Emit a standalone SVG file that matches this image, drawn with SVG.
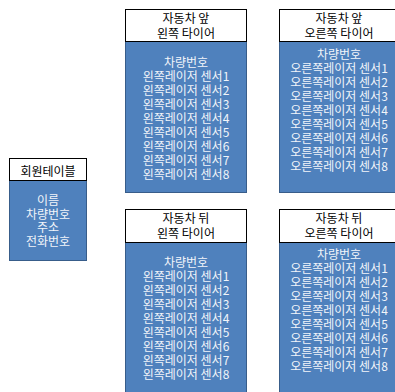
<svg xmlns="http://www.w3.org/2000/svg" width="395" height="392" viewBox="0 0 395 392">
<style>
.hd{fill:#ffffff;stroke:#000000;stroke-width:1}
.bd{fill:#4F81BD;stroke:#385D8A;stroke-width:1}
text{font-family:"Noto Sans CJK KR","Noto Sans",sans-serif;font-size:12px;text-anchor:middle;dominant-baseline:central}
.ht{fill:#000000}
.bt{fill:#F2F5FA}
</style>
<rect width="395" height="392" fill="#ffffff"/>
<g id="connectors"></g>
<g id="member">
<rect class="bd" x="9.5" y="180.5" width="77" height="80"/>
<rect class="hd" x="9.5" y="158.5" width="77" height="22"/>
<text class="ht" x="48" y="170">회원테이블</text>
<text class="bt" x="48" y="199">이름</text>
<text class="bt" x="48" y="213">차량번호</text>
<text class="bt" x="48" y="226">주소</text>
<text class="bt" x="48" y="240">전화번호</text>
</g>
<g id="front-left">
<rect class="bd" x="125.5" y="41.5" width="121" height="151"/>
<rect class="hd" x="125.5" y="9.5" width="121" height="32"/>
<text class="ht" x="186" y="17">자동차 앞</text>
<text class="ht" x="186" y="32">왼쪽 타이어</text>
<text class="bt" x="186" y="61">차량번호</text>
<text class="bt" x="186" y="75">왼쪽레이저 센서1</text>
<text class="bt" x="186" y="89">왼쪽레이저 센서2</text>
<text class="bt" x="186" y="103">왼쪽레이저 센서3</text>
<text class="bt" x="186" y="117">왼쪽레이저 센서4</text>
<text class="bt" x="186" y="131">왼쪽레이저 센서5</text>
<text class="bt" x="186" y="145">왼쪽레이저 센서6</text>
<text class="bt" x="186" y="159">왼쪽레이저 센서7</text>
<text class="bt" x="186" y="173">왼쪽레이저 센서8</text>
</g>
<g id="front-right">
<rect class="bd" x="279.5" y="41.5" width="120" height="151"/>
<rect class="hd" x="279.5" y="9.5" width="120" height="32"/>
<text class="ht" x="339" y="17">자동차 앞</text>
<text class="ht" x="339" y="32">오른쪽 타이어</text>
<text class="bt" x="339" y="53">차량번호</text>
<text class="bt" x="339" y="67">오른쪽레이저 센서1</text>
<text class="bt" x="339" y="81">오른쪽레이저 센서2</text>
<text class="bt" x="339" y="95">오른쪽레이저 센서3</text>
<text class="bt" x="339" y="109">오른쪽레이저 센서4</text>
<text class="bt" x="339" y="123">오른쪽레이저 센서5</text>
<text class="bt" x="339" y="137">오른쪽레이저 센서6</text>
<text class="bt" x="339" y="151">오른쪽레이저 센서7</text>
<text class="bt" x="339" y="165">오른쪽레이저 센서8</text>
</g>
<g id="rear-left">
<rect class="bd" x="125.5" y="242.5" width="121" height="160"/>
<rect class="hd" x="125.5" y="209.5" width="121" height="33"/>
<text class="ht" x="186" y="217">자동차 뒤</text>
<text class="ht" x="186" y="232">왼쪽 타이어</text>
<text class="bt" x="186" y="261">차량번호</text>
<text class="bt" x="186" y="275">왼쪽레이저 센서1</text>
<text class="bt" x="186" y="289">왼쪽레이저 센서2</text>
<text class="bt" x="186" y="303">왼쪽레이저 센서3</text>
<text class="bt" x="186" y="317">왼쪽레이저 센서4</text>
<text class="bt" x="186" y="331">왼쪽레이저 센서5</text>
<text class="bt" x="186" y="345">왼쪽레이저 센서6</text>
<text class="bt" x="186" y="359">왼쪽레이저 센서7</text>
<text class="bt" x="186" y="373">왼쪽레이저 센서8</text>
</g>
<g id="rear-right">
<rect class="bd" x="279.5" y="242.5" width="120" height="160"/>
<rect class="hd" x="279.5" y="209.5" width="120" height="33"/>
<text class="ht" x="339" y="217">자동차 뒤</text>
<text class="ht" x="339" y="232">오른쪽 타이어</text>
<text class="bt" x="339" y="253">차량번호</text>
<text class="bt" x="339" y="267">오른쪽레이저 센서1</text>
<text class="bt" x="339" y="281">오른쪽레이저 센서2</text>
<text class="bt" x="339" y="295">오른쪽레이저 센서3</text>
<text class="bt" x="339" y="309">오른쪽레이저 센서4</text>
<text class="bt" x="339" y="323">오른쪽레이저 센서5</text>
<text class="bt" x="339" y="337">오른쪽레이저 센서6</text>
<text class="bt" x="339" y="351">오른쪽레이저 센서7</text>
<text class="bt" x="339" y="365">오른쪽레이저 센서8</text>
</g>
</svg>
